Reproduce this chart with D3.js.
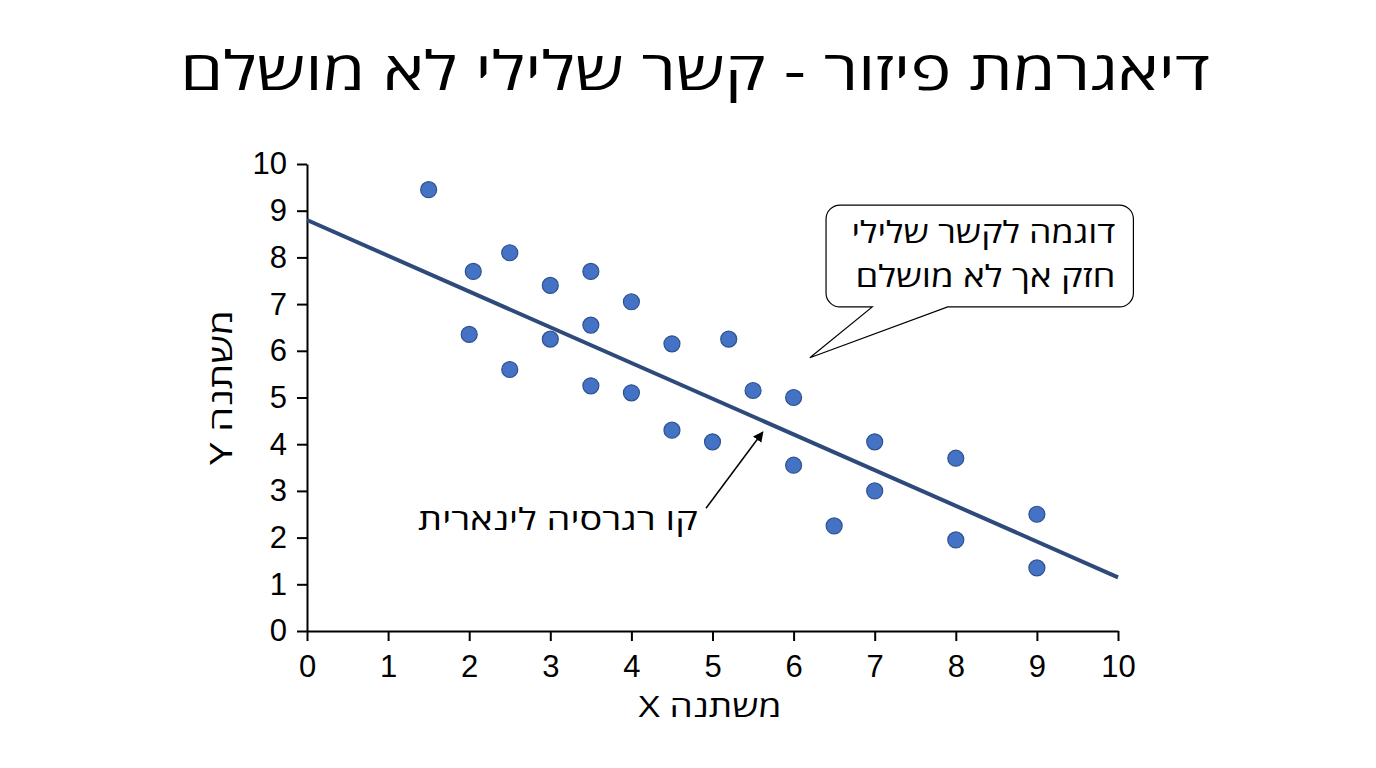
<!DOCTYPE html>
<html lang="he">
<head>
<meta charset="utf-8">
<script src="https://cdn.jsdelivr.net/npm/d3@7"></script>
<style>
  body { margin: 0; background: #fff; }
  svg text { fill: #000; }
  .tick text { font-family: "Liberation Sans", Arial, sans-serif; font-size: 31px; }
  .heb { font-family: "Open Sans", "DejaVu Sans", sans-serif; }
</style>
</head>
<body>
<div id="chart"></div>
<script>
// data
let xValues = [1.5, 2.05, 2.0, 2.5, 2.5, 3.0, 3.0, 3.5, 3.5, 3.5, 4.0, 4.0, 4.5, 4.5, 5.0, 5.2, 5.5, 6.0, 6.0, 6.5, 7.0, 7.0, 8.0, 8.0, 9.0, 9.0];
let yValues = [9.45, 7.7, 6.35, 8.1, 5.6, 7.4, 6.25, 7.7, 6.55, 5.25, 7.05, 5.1, 6.15, 4.3, 4.05, 6.25, 5.15, 5.0, 3.55, 2.25, 4.05, 3.0, 3.7, 1.95, 2.5, 1.35];
let regX = [0, 10];
let regY = [8.8, 1.15];
let xTicks = [0, 1, 2, 3, 4, 5, 6, 7, 8, 9, 10];
let yTicks = [0, 1, 2, 3, 4, 5, 6, 7, 8, 9, 10];

let titleText = 'דיאגרמת פיזור - קשר שלילי לא מושלם';
let xLabel = 'משתנה X';
let yLabel = 'משתנה Y';
let calloutLines = ['דוגמה לקשר שלילי', 'חזק אך לא מושלם'];
let regLabel = 'קו רגרסיה לינארית';

let canvasWidth = 1376, canvasHeight = 768;
let margin = { top: 164, right: 258, bottom: 137, left: 307 };
let width = canvasWidth - margin.left - margin.right;
let height = canvasHeight - margin.top - margin.bottom;

let x = d3.scaleLinear().domain([0, 10]).range([0, width]);
let y = d3.scaleLinear().domain([0, 10]).range([height, 0]);

// stretch a text sideways to a given width (reference font is wider)
function fit(sel, target, tr) {
    let w = sel.node().getComputedTextLength();
    sel.attr('transform', tr + ' scale(' + (target / w) + ',1)');
    return sel;
}

let root = d3.select('#chart').append('svg')
    .attr('width', canvasWidth)
    .attr('height', canvasHeight);

let title = root.append('text')
    .attr('class', 'heb')
    .attr('text-anchor', 'middle')
    .style('font-size', '54px')
    .text(titleText);
fit(title, 1030, 'translate(695,90)');

let svg = root.append('g')
    .attr('transform', 'translate(' + margin.left + ',' + margin.top + ')');

let xAxis = svg.append('g')
    .attr('transform', 'translate(0,' + height + ')')
    .call(d3.axisBottom(x).tickValues(xTicks).tickSize(10).tickSizeOuter(0).tickPadding(14));
let yAxis = svg.append('g')
    .call(d3.axisLeft(y).tickValues(yTicks).tickSize(10).tickSizeOuter(0).tickPadding(10));
[xAxis, yAxis].forEach((a) => {
    a.selectAll('path, line').attr('stroke', '#000').attr('stroke-width', 2);
    a.selectAll('text').attr('fill', '#000');
});

let xl = svg.append('text')
    .attr('class', 'heb')
    .attr('text-anchor', 'middle')
    .style('direction', 'rtl')
    .style('font-size', '30px')
    .text(xLabel);
fit(xl, 143, 'translate(403,' + (height + 86) + ')');

let yl = svg.append('text')
    .attr('class', 'heb')
    .attr('text-anchor', 'middle')
    .style('direction', 'rtl')
    .style('font-size', '31px')
    .text(yLabel);
fit(yl, 155, 'translate(-75,' + (height / 2 - 10) + ') rotate(-90)');

// regression line
let pts = regX.map((v, i) => [v, regY[i]]);
svg.append('path')
    .datum(pts)
    .attr('fill', 'none')
    .attr('stroke', '#2d4a7a')
    .attr('stroke-width', 4)
    .attr('d', d3.line().x((o) => x(o[0])).y((o) => y(o[1])));

// points
let data = xValues.map((v, i) => ({ x: v, y: yValues[i] }));
svg.selectAll('.dot')
    .data(data)
  .enter().append('circle')
    .attr('class', 'dot')
    .attr('cx', (o) => x(o.x))
    .attr('cy', (o) => y(o.y))
    .attr('r', 8)
    .attr('fill', '#4472c4')
    .attr('stroke', '#2f528f')
    .attr('stroke-width', 1.2);

// callout bubble (anchored in data coords)
let box = { x0: 6.4, x1: 10.19, y0: 9.12, y1: 6.94, r: 14 };
let tail = { a: 6.97, b: 7.9, tipX: 6.2, tipY: 5.85 };
let bx0 = x(box.x0), bx1 = x(box.x1), by0 = y(box.y0), by1 = y(box.y1), r = box.r;
let bubble = d3.path();
bubble.moveTo(bx0 + r, by0);
bubble.lineTo(bx1 - r, by0);
bubble.arcTo(bx1, by0, bx1, by0 + r, r);
bubble.lineTo(bx1, by1 - r);
bubble.arcTo(bx1, by1, bx1 - r, by1, r);
bubble.lineTo(x(tail.b), by1);
bubble.lineTo(x(tail.tipX), y(tail.tipY));
bubble.lineTo(x(tail.a), by1);
bubble.lineTo(bx0 + r, by1);
bubble.arcTo(bx0, by1, bx0, by1 - r, r);
bubble.lineTo(bx0, by0 + r);
bubble.arcTo(bx0, by0, bx0 + r, by0, r);
bubble.closePath();
svg.append('path')
    .attr('d', bubble.toString())
    .attr('fill', '#fff')
    .attr('stroke', '#000')
    .attr('stroke-width', 1.2);

let calloutWidths = [264, 260];
svg.selectAll('.callout')
    .data(calloutLines)
  .enter().append('text')
    .attr('class', 'heb callout')
    .attr('text-anchor', 'end')
    .style('font-size', '30px')
    .text((o) => o)
    .each(function(o, i) {
        fit(d3.select(this), calloutWidths[i], 'translate(' + (bx1 - 18) + ',' + (by0 + 38 + i * 44) + ')');
    });

// regression label with arrow
root.append('defs').append('marker')
    .attr('id', 'arrow')
    .attr('viewBox', '0 0 10 10')
    .attr('refX', 9).attr('refY', 5)
    .attr('markerWidth', 7).attr('markerHeight', 7)
    .attr('orient', 'auto')
  .append('path')
    .attr('d', 'M0,0 L10,5 L0,10 z')
    .attr('fill', '#000');

let arrowFrom = [4.92, 2.63], arrowTo = [5.62, 4.26];
svg.append('line')
    .attr('x1', x(arrowFrom[0])).attr('y1', y(arrowFrom[1]))
    .attr('x2', x(arrowTo[0])).attr('y2', y(arrowTo[1]))
    .attr('stroke', '#000')
    .attr('stroke-width', 1.5)
    .attr('marker-end', 'url(#arrow)');

let rl = svg.append('text')
    .attr('class', 'heb')
    .attr('text-anchor', 'end')
    .style('font-size', '30px')
    .text(regLabel);
fit(rl, 280, 'translate(' + x(4.82) + ',' + y(2.16) + ')');
</script>
</body>
</html>
